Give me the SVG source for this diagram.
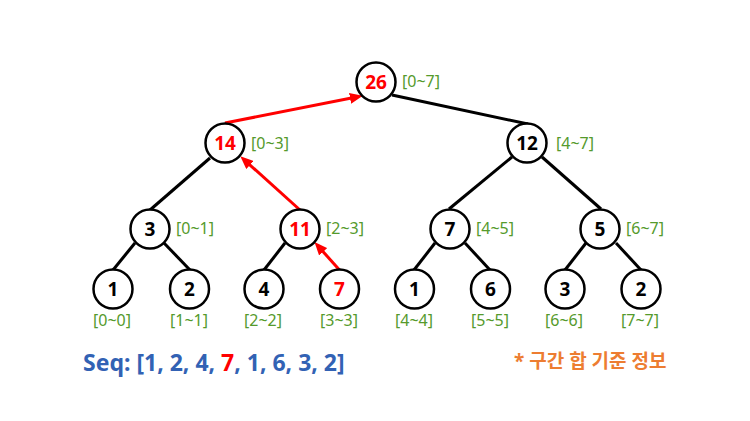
<svg xmlns="http://www.w3.org/2000/svg" width="750" height="421" viewBox="0 0 750 421">
<defs>
<marker id="ah" markerUnits="userSpaceOnUse" markerWidth="13" markerHeight="11" refX="4" refY="5.5" orient="auto" viewBox="0 0 13 11">
<path d="M0,0 L13,5.5 L0,11 z" fill="#ff0000"/>
</marker>
<style>
.n{fill:#fff;stroke:#000;stroke-width:2.5}
.t{font-family:"Noto Sans","DejaVu Sans",sans-serif;font-weight:bold;font-size:19px;text-anchor:middle;fill:#000}
.r{fill:#ff0000}
.g{font-family:"Noto Sans","DejaVu Sans",sans-serif;font-size:16px;fill:#559a2c}
.gc{text-anchor:middle}
.e{stroke:#000;stroke-width:3;fill:none}
.a{stroke:#ff0000;stroke-width:3;fill:none;marker-end:url(#ah)}
</style>
</defs>
<rect width="750" height="421" fill="#fff"/>
<g id="connectors">
<line class="e" x1="392" y1="95" x2="528" y2="124"/>
<line class="e" x1="210" y1="158" x2="150" y2="210"/>
<line class="e" x1="512" y1="157" x2="449" y2="209"/>
<line class="e" x1="542" y1="157" x2="601" y2="209"/>
<line class="e" x1="135" y1="243" x2="113" y2="270"/>
<line class="e" x1="164" y1="243" x2="190" y2="270"/>
<line class="e" x1="285" y1="243" x2="264" y2="270"/>
<line class="e" x1="435" y1="243" x2="414" y2="270"/>
<line class="e" x1="465" y1="243" x2="490" y2="270"/>
<line class="e" x1="586" y1="243" x2="565" y2="270"/>
<line class="e" x1="616" y1="243" x2="641" y2="270"/>
<line class="a" x1="225" y1="123" x2="354" y2="97.5"/>
<line class="a" x1="300" y1="210" x2="247" y2="162.3"/>
<line class="a" x1="339.5" y1="270" x2="320.5" y2="248.8"/>
</g>
<g id="n0"><circle class="n" cx="376" cy="82" r="19.5"/><text class="t r" x="376" y="89">26</text><text class="g" x="402" y="87">[0~7]</text></g>
<g id="n1"><circle class="n" cx="225" cy="143" r="19.5"/><text class="t r" x="225" y="150">14</text><text class="g" x="251" y="149">[0~3]</text></g>
<g id="n2"><circle class="n" cx="527" cy="143" r="19.5"/><text class="t" x="527" y="150">12</text><text class="g" x="556" y="149">[4~7]</text></g>
<g id="n3"><circle class="n" cx="150" cy="229" r="19.5"/><text class="t" x="150" y="236">3</text><text class="g" x="176" y="234">[0~1]</text></g>
<g id="n4"><circle class="n" cx="300" cy="229" r="19.5"/><text class="t r" x="300" y="236">11</text><text class="g" x="326" y="234">[2~3]</text></g>
<g id="n5"><circle class="n" cx="450" cy="229" r="19.5"/><text class="t" x="450" y="236">7</text><text class="g" x="476" y="234">[4~5]</text></g>
<g id="n6"><circle class="n" cx="600" cy="229" r="19.5"/><text class="t" x="600" y="236">5</text><text class="g" x="626" y="234">[6~7]</text></g>
<g id="n7"><circle class="n" cx="113" cy="289" r="19.5"/><text class="t" x="113" y="296">1</text><text class="g gc" x="112" y="326">[0~0]</text></g>
<g id="n8"><circle class="n" cx="189.5" cy="289" r="19.5"/><text class="t" x="189.5" y="296">2</text><text class="g gc" x="189" y="326">[1~1]</text></g>
<g id="n9"><circle class="n" cx="264" cy="289" r="19.5"/><text class="t" x="264" y="296">4</text><text class="g gc" x="263" y="326">[2~2]</text></g>
<g id="n10"><circle class="n" cx="339.5" cy="289" r="19.5"/><text class="t r" x="339.5" y="296">7</text><text class="g gc" x="339" y="326">[3~3]</text></g>
<g id="n11"><circle class="n" cx="414.5" cy="289" r="19.5"/><text class="t" x="414.5" y="296">1</text><text class="g gc" x="414" y="326">[4~4]</text></g>
<g id="n12"><circle class="n" cx="490.5" cy="289" r="19.5"/><text class="t" x="490.5" y="296">6</text><text class="g gc" x="490" y="326">[5~5]</text></g>
<g id="n13"><circle class="n" cx="565" cy="289" r="19.5"/><text class="t" x="565" y="296">3</text><text class="g gc" x="564" y="326">[6~6]</text></g>
<g id="n14"><circle class="n" cx="641" cy="289" r="19.5"/><text class="t" x="641" y="296">2</text><text class="g gc" x="640" y="326">[7~7]</text></g>
<g id="seq"><text x="83" y="371" font-family="Noto Sans, DejaVu Sans, sans-serif" font-weight="bold" font-size="23" fill="#3262b4">Seq: [1, 2, 4, <tspan fill="#ff0000">7</tspan>, 1, 6, 3, 2]</text></g>
<g id="note"><text x="514" y="368" font-family="Noto Sans, Noto Sans CJK KR, sans-serif" font-weight="bold" font-size="19" fill="#ed7d31">* 구간 합 기준 정보</text></g>
</svg>
